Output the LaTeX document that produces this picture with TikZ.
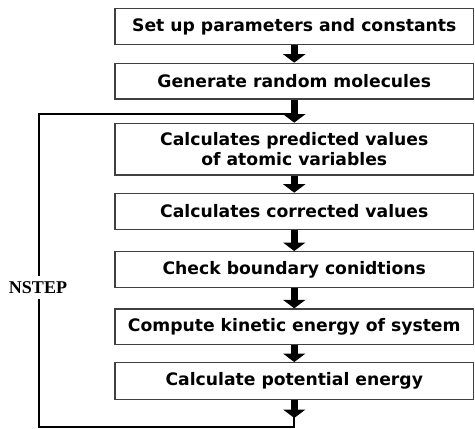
\documentclass[tikz,border=0pt]{standalone}
\usepackage{fontspec}
\setmainfont{DejaVu Sans}
\newfontfamily\nsfont{Liberation Serif}
\usetikzlibrary{arrows.meta}
\begin{document}
\begin{tikzpicture}[x=1pt,y=-1pt,
  stepbox/.style={draw=black!75,line width=1.3pt,minimum width=358.5pt,inner sep=0pt,
    font=\fontsize{17.2}{20}\selectfont\bfseries,align=center},
  flowarrow/.style={line width=7pt,-{Triangle[width=22pt,length=8.5pt]}},
  loopline/.style={line width=2pt,line cap=rect},
  nsteplabel/.style={font=\nsfont\fontsize{18}{20}\selectfont\bfseries,inner sep=0pt,minimum height=25pt}]
\useasboundingbox (0,0) rectangle (475,429);
\node[stepbox,minimum height=36pt] (b1) at (294.25,26.3) {Set up parameters and constants};
\node[stepbox,minimum height=35.7pt] (b2) at (294.25,81.15) {Generate random molecules};
\node[stepbox,minimum height=51.7pt] (b3) at (294.25,149.15) {Calculates predicted values\\of atomic variables};
\node[stepbox,minimum height=36pt] (b4) at (294.25,211.3) {Calculates corrected values};
\node[stepbox,minimum height=36pt] (b5) at (294.25,269.7) {Check boundary conidtions};
\node[stepbox,minimum height=35.3pt] (b6) at (294.25,326.65) {Compute kinetic energy of system};
\node[stepbox,minimum height=36.6pt] (b7) at (294.25,381) {Calculate potential energy};
\node[nsteplabel] (ns) at (38,287.5) {NSTEP};
\coordinate (tip) at (294.25,418);
\coordinate (bl) at (39,426.7);
\coordinate (tl) at (39,114.3);
\coordinate (tr) at (294.25,114.3);
\draw[flowarrow] (b1.south) -- (b2.north);
\draw[flowarrow] (b2.south) -- (b3.north);
\draw[flowarrow] (b3.south) -- (b4.north);
\draw[flowarrow] (b4.south) -- (b5.north);
\draw[flowarrow] (b5.south) -- (b6.north);
\draw[flowarrow] (b6.south) -- (b7.north);
\draw[flowarrow] (b7.south) -- (tip);
\draw[loopline] (tip) |- (bl) -- (bl |- ns.south);
\draw[loopline] (bl |- ns.north) -- (tl) -- (tr);
\end{tikzpicture}
\end{document}
